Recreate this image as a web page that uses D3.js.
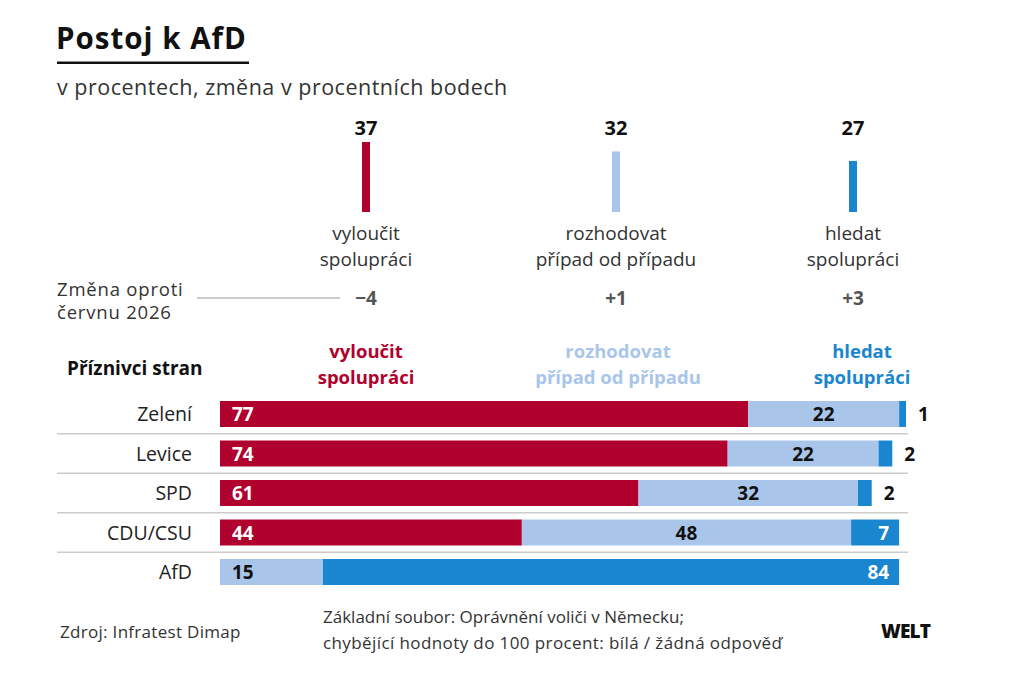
<!DOCTYPE html>
<html>
<head>
<meta charset="utf-8">
<script src="https://cdn.jsdelivr.net/npm/d3@7"></script>
<style>
  body { margin: 0; background: #fff; }
  svg text { font-family: "Open Sans", Lato, sans-serif; }
</style>
</head>
<body>
<div id="chart"></div>
<script>
// summary (all respondents)
const answerLines = [["vyloučit", "spolupráci"], ["rozhodovat", "případ od případu"], ["hledat", "spolupráci"]];
const totals = [37, 32, 27];
const changes = ["−4", "+1", "+3"];

// by party supporters
const parties = ["Zelení", "Levice", "SPD", "CDU/CSU", "AfD"];
const exclude = [77, 74, 61, 44, 0];
const caseByCase = [22, 22, 32, 48, 15];
const cooperate = [1, 2, 2, 7, 84];

const colors = ["#b0002d", "#a9c6ea", "#1a86d0"];

const W = 1024, H = 692;
const svg = d3.select("#chart").append("svg")
  .attr("width", W).attr("height", H)
  .style("background", "#fff");

// title block
svg.append("text").attr("x", 56).attr("y", 49)
  .style("font-size", "29.5px").style("font-weight", 700).style("fill", "#111")
  .style("letter-spacing", "1px")
  .text("Postoj k AfD");
svg.append("rect").attr("x", 57).attr("y", 61.5).attr("width", 192).attr("height", 2.5).attr("fill", "#111");
svg.append("text").attr("x", 57).attr("y", 95)
  .style("font-size", "21.5px").style("fill", "#333")
  .style("letter-spacing", "0.5px")
  .text("v procentech, změna v procentních bodech");

// top overview columns
const colX = [366, 616, 853];
const yTop = d3.scaleLinear().domain([0, 37]).range([212, 142]);

const overview = svg.append("g");
totals.forEach((v, i) => {
  overview.append("rect")
    .attr("x", colX[i] - 4).attr("width", 8)
    .attr("y", yTop(v)).attr("height", yTop(0) - yTop(v))
    .attr("fill", colors[i]);
  overview.append("text").attr("x", colX[i]).attr("y", 135)
    .attr("text-anchor", "middle")
    .style("font-size", "20px").style("font-weight", 700).style("fill", "#111")
    .text(v);
  answerLines[i].forEach((l, j) => {
    overview.append("text").attr("x", colX[i]).attr("y", 240 + j * 26)
      .attr("text-anchor", "middle")
      .style("font-size", "19px").style("fill", "#333")
      .text(l);
  });
  overview.append("text").attr("x", colX[i]).attr("y", 305)
    .attr("text-anchor", "middle")
    .style("font-size", "19px").style("font-weight", 700).style("fill", "#555")
    .text(changes[i]);
});

svg.append("text").attr("x", 57).attr("y", 296)
  .style("font-size", "18.5px").style("fill", "#333")
  .style("letter-spacing", "0.8px").text("Změna oproti");
svg.append("text").attr("x", 57).attr("y", 319)
  .style("font-size", "18.5px").style("fill", "#333")
  .style("letter-spacing", "0.8px").text("červnu 2026");
svg.append("line").attr("x1", 197).attr("x2", 340).attr("y1", 298).attr("y2", 298)
  .attr("stroke", "#999").attr("stroke-width", 1);

// party breakdown
svg.append("text").attr("x", 67).attr("y", 375)
  .style("font-size", "19px").style("font-weight", 700).style("fill", "#111")
  .text("Příznivci stran");

const legendX = [366, 618, 862];
answerLines.forEach((lines, i) => {
  lines.forEach((l, j) => {
    svg.append("text").attr("x", legendX[i]).attr("y", 358 + j * 26)
      .attr("text-anchor", "middle")
      .style("font-size", "18.5px").style("font-weight", 700).style("fill", colors[i])
      .text(l);
  });
});

const x = d3.scaleLinear().domain([0, 100]).range([220, 906]);
const y = d3.scaleBand().domain(parties).range([394.25, 591.75])
  .paddingInner(0.342).paddingOuter(0.171);

const rows = parties.map((p, i) => ({ party: p, vals: [exclude[i], caseByCase[i], cooperate[i]] }));
const series = d3.stack().keys([0, 1, 2]).value((d, k) => d.vals[k])(rows);

// separators between rows
parties.slice(1).forEach(p => {
  const yy = y(p) - (y.step() - y.bandwidth()) / 2;
  svg.append("line").attr("x1", 57).attr("x2", 908).attr("y1", yy).attr("y2", yy)
    .attr("stroke", "#ccc").attr("stroke-width", 1.5);
});

svg.append("g").selectAll("g").data(series).join("g")
  .attr("fill", (d, i) => colors[i])
  .selectAll("rect").data(d => d).join("rect")
  .attr("x", d => x(d[0]))
  .attr("width", d => x(d[1]) - x(d[0]))
  .attr("y", d => y(d.data.party))
  .attr("height", y.bandwidth());

// row labels
svg.append("g").selectAll("text").data(parties).join("text")
  .attr("x", 192).attr("y", d => y(d) + y.bandwidth() / 2 + 7)
  .attr("text-anchor", "end")
  .style("font-size", "19.5px").style("fill", "#222")
  .text(d => d);

// value labels
const lab = svg.append("g").style("font-size", "19px").style("font-weight", 700);
series.forEach((s, k) => {
  s.forEach(d => {
    const v = d[1] - d[0];
    if (v <= 0) return;
    const yy = y(d.data.party) + y.bandwidth() / 2 + 7;
    const first = d[0] === 0;
    let tx, anchor, fill;
    if (first) { tx = x(d[0]) + 12; anchor = "start"; fill = k === 0 ? "#fff" : "#111"; }
    else if (k === 1) { tx = (x(d[0]) + x(d[1])) / 2; anchor = "middle"; fill = "#111"; }
    else if (v >= 5) { tx = x(d[1]) - 10; anchor = "end"; fill = "#fff"; }
    else { tx = x(d[1]) + 12; anchor = "start"; fill = "#111"; }
    lab.append("text").attr("x", tx).attr("y", yy)
      .attr("text-anchor", anchor).style("fill", fill).text(v);
  });
});

// footer
svg.append("text").attr("x", 60).attr("y", 638)
  .style("font-size", "17px").style("fill", "#333")
  .style("letter-spacing", "0.3px").text("Zdroj: Infratest Dimap");
svg.append("text").attr("x", 323).attr("y", 623)
  .style("font-size", "17px").style("fill", "#333").text("Základní soubor: Oprávnění voliči v Německu;");
svg.append("text").attr("x", 323).attr("y", 649)
  .style("font-size", "17px").style("fill", "#333")
  .style("letter-spacing", "0.4px").text("chybějící hodnoty do 100 procent: bílá / žádná odpověď");
svg.append("text").attr("x", 881).attr("y", 638)
  .style("font-size", "19px").style("font-weight", 800).style("fill", "#111")
  .style("letter-spacing", "-0.8px")
  .text("WELT");
</script>
</body>
</html>
